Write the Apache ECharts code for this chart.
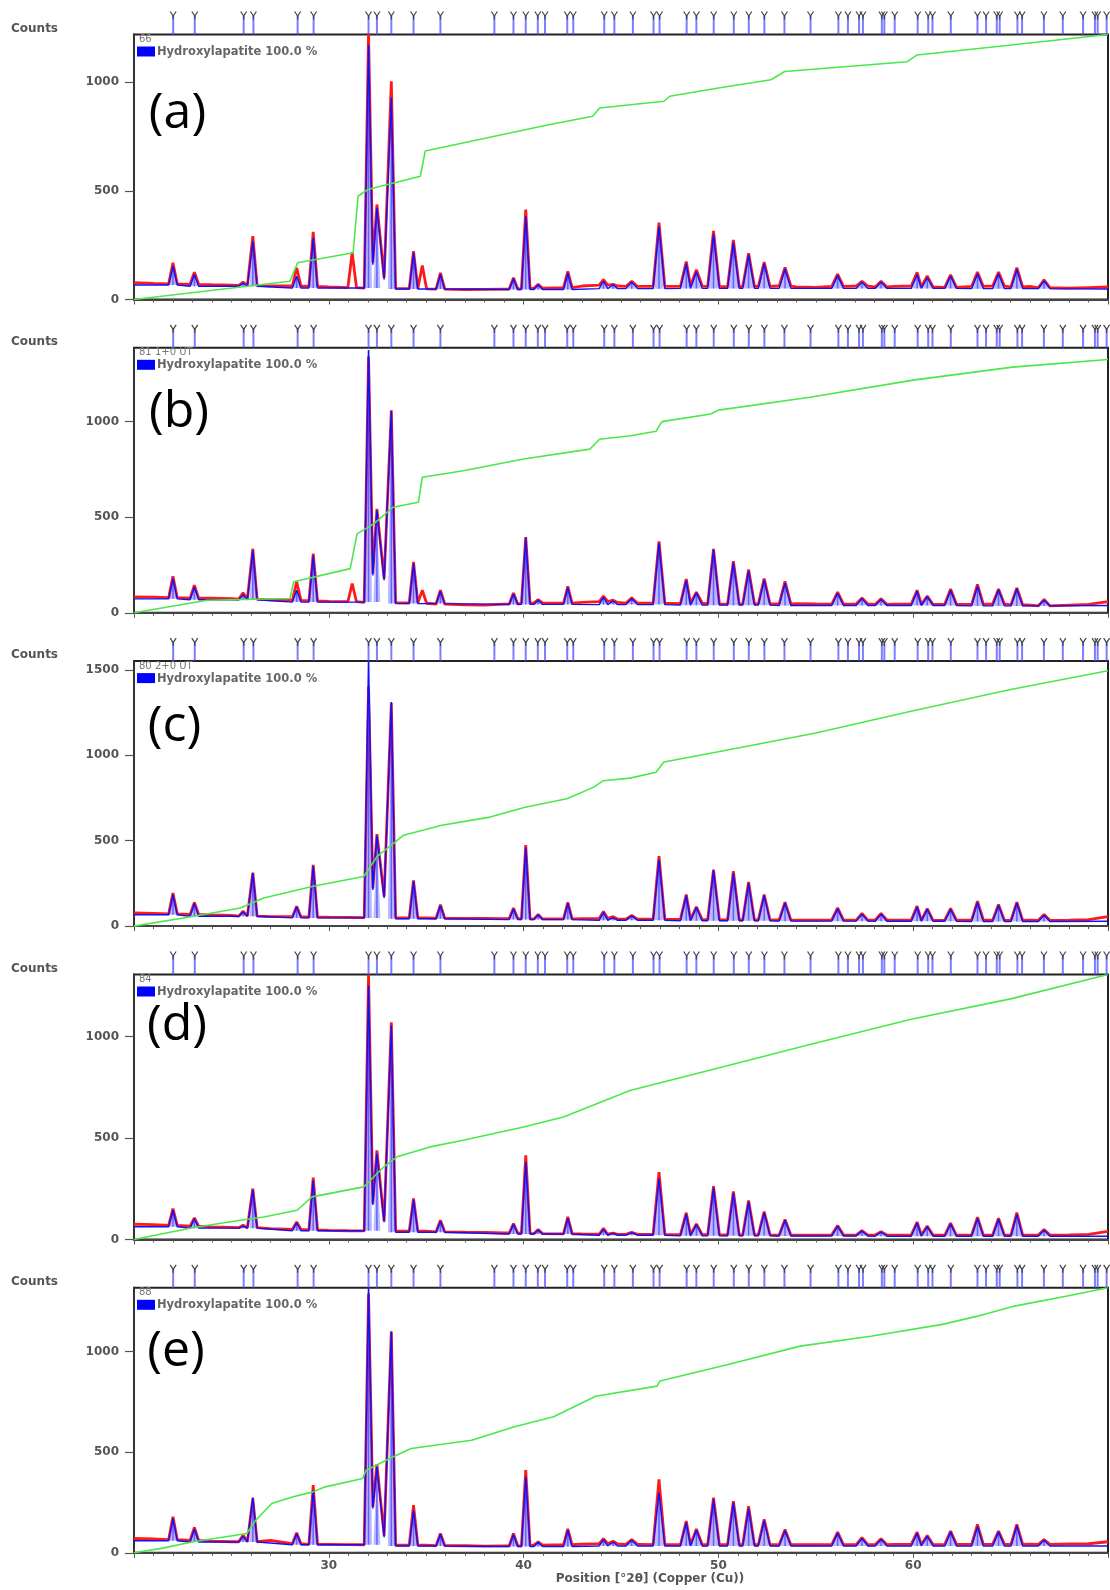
<!DOCTYPE html>
<html><head><meta charset="utf-8">
<script src="https://cdn.jsdelivr.net/npm/echarts@6/dist/echarts.min.js"></script>
<style>html,body{margin:0;padding:0;background:#fff}#c{width:1110px;height:1590px}</style>
</head><body><div id="c"></div>
<script>
// ---------- DATA ----------
const panelLabels = ['(a)', '(b)', '(c)', '(d)', '(e)'];
const sampleIds = ['66', '81 1+0 UT', '80 2+0 UT', '84', '88'];
const phaseName = 'Hydroxylapatite 100.0 %';
const xAxisTitle = 'Position [°2θ] (Copper (Cu))';
const yAxisMax = [1219, 1386, 1551, 1305, 1318];
const xTickLabels = [30, 40, 50, 60];

// reference pattern positions (top sticks), °2θ
const refPos = [22.01, 23.12, 25.63, 26.13, 28.40, 29.22, 32.04, 32.47, 33.21, 34.35, 35.73, 38.50, 39.48, 40.11, 40.73, 41.10,
  42.24, 42.55, 44.14, 44.66, 45.61, 46.67, 46.98, 48.37, 48.87, 49.76, 50.79, 51.56, 52.36, 53.39, 54.73, 56.16, 56.65,
  57.22, 57.42, 58.39, 58.52, 59.05, 60.23, 60.77, 60.99, 61.93, 63.30, 63.74, 64.29, 64.44, 65.35, 65.59, 66.71, 67.68,
  68.72, 69.33, 69.47, 69.93];

// peaks seen in the profiles, °2θ
const peakPos = [22.0, 23.1, 25.6, 26.1, 28.35, 29.2, 31.2, 32.04, 32.47, 33.21, 34.35, 34.8, 35.73, 39.48, 40.11, 40.75,
  42.27, 44.1, 44.6, 45.55, 46.95, 48.35, 48.87, 49.75, 50.77, 51.55, 52.35, 53.42, 56.12, 57.37, 58.35, 60.2, 60.72,
  61.92, 63.3, 64.38, 65.32, 66.72];

// observed (red) and calculated (blue) peak tops, counts
const obsA = [169,126,80,291,146,311,215,1225,437,1004,222,156,123,100,414,70,129,91,70,84,354,175,137,316,274,213,172,147,117,84,84,125,109,114,126,126,147,91];
const calcA = [153,115,75,268,107,284,null,1170,422,928,215,null,115,95,383,68,122,85,68,80,335,165,128,300,262,205,165,140,110,80,80,115,100,108,118,118,138,85];
const obsB = [191,144,104,335,162,309,153,1340,544,1059,266,118,118,104,396,69,139,88,66,78,374,177,108,334,270,226,179,165,108,78,73,118,87,125,148,125,130,70];
const calcB = [179,135,95,326,118,300,null,1375,535,1056,257,null,112,98,392,66,132,82,62,74,365,170,104,330,262,218,172,155,102,74,70,112,84,118,138,120,126,66];
const obsC = [193,139,87,313,116,358,null,1402,538,1306,267,null,126,106,474,68,139,85,55,62,409,185,113,331,321,259,185,140,107,74,74,117,103,103,146,126,140,68];
const calcC = [184,132,82,310,112,352,null,1547,530,1311,262,null,120,100,460,66,132,80,50,60,389,178,108,325,310,250,180,135,102,70,70,112,98,98,138,120,135,64];
const obsD = [152,107,70,251,87,305,null,1305,439,1070,202,null,95,79,415,49,111,55,32,36,332,132,77,263,237,192,138,99,69,44,39,86,66,81,110,105,132,49];
const calcD = [144,102,66,245,82,292,null,1251,423,1054,195,null,90,75,382,47,105,50,30,34,299,125,74,255,228,185,132,95,66,42,37,82,62,77,104,100,124,46];
const obsE = [179,126,88,270,100,337,null,1290,441,1100,237,null,96,96,411,55,119,70,58,66,365,158,119,274,257,232,166,116,103,75,70,103,86,108,141,108,141,66];
const calcE = [171,118,82,275,95,312,null,1315,428,1100,212,null,92,90,378,52,112,66,54,62,299,150,112,265,250,220,160,110,98,72,66,98,82,104,130,104,135,62];

// valleys inside the 32–33° cluster [°2θ, counts]
const valObsA = [[32.26,170],[32.84,100]], valCalcA = [[32.26,160],[32.84,92]];
const valObsB = [[32.26,205],[32.84,179]], valCalcB = [[32.26,195],[32.84,170]];
const valObsC = [[32.26,222],[32.84,174]], valCalcC = [[32.26,212],[32.84,165]];
const valObsD = [[32.26,177],[32.84,90]],  valCalcD = [[32.26,170],[32.84,85]];
const valObsE = [[32.26,229],[32.84,85]],  valCalcE = [[32.26,220],[32.84,78]];

// observed background, one value per degree
const bgPos = [20,21,22,23,24,25,26,27,28,29,30,31,32,33,34,35,36,37,38,39,40,41,42,43,44,45,46,47,48,49,50,51,52,53,54,55,56,57,58,59,60,61,62,63,64,65,66,67,68,69,70];
const bgA = [77,74,72,70,68,66,65,63,62,60,58,55,52,51,50,49,48,46,47,48,50,52,55,62,66,62,60,61,60,62,60,58,60,62,58,56,60,62,58,60,62,58,56,60,62,58,60,54,52,55,58];
const bgB = [83,82,79,77,76,74,72,68,65,62,60,58,55,53,52,50,46,42,40,45,50,52,50,55,58,54,50,50,48,50,47,45,47,46,48,46,45,46,44,45,46,44,45,44,46,42,40,36,40,44,58];
const bgC = [77,75,72,68,65,62,58,56,55,53,52,51,50,49,48,48,46,45,45,44,43,42,42,44,45,42,40,40,39,38,38,37,36,36,35,35,36,35,36,35,35,34,35,36,35,34,35,34,35,38,55];
const bgD = [75,73,70,66,62,60,58,54,50,47,45,43,42,42,41,41,38,36,35,32,30,29,28,27,26,25,25,25,24,24,24,23,23,22,22,22,23,22,22,21,22,22,21,22,22,22,21,22,23,25,40];
const bgE = [71,69,66,62,58,55,55,62,45,42,42,41,40,39,38,38,36,35,33,34,35,38,40,43,45,44,42,41,40,40,40,41,40,40,41,40,41,40,41,42,42,41,42,42,43,42,43,42,44,45,55];

// calculated background
const calcBgPos = [20,25,30,35,40,45,50,55,60,65,70];
const cbgA = [67,61,53,48,46,50,51,51,51,50,48];
const cbgB = [73,68,56,48,44,43,40,38,38,36,38];
const cbgC = [66,58,48,43,38,34,31,29,28,27,28];
const cbgD = [63,56,43,36,27,21,18,17,16,16,16];
const cbgE = [60,54,40,34,31,34,34,34,34,34,34];

// green curve [°2θ, counts]
const greenA = [[20,0],[28.0,84],[28.4,169],[31.25,215],[31.5,475],[32.0,506],[34.7,567],[34.95,683],[41.35,805],[43.55,843],[43.9,881],[47.2,912],[47.5,935],[50.0,973],[52.7,1011],[53.4,1049],[59.7,1094],[60.2,1125],[64.2,1163],[70,1219]];
const greenB = [[20,0],[23.75,66],[28.0,75],[28.2,162],[31.1,231],[31.45,413],[32.3,465],[33.3,552],[34.6,578],[34.8,709],[36.9,743],[40.0,804],[43.4,856],[43.9,908],[45.5,926],[46.8,950],[47.1,1000],[49.6,1040],[50.0,1060],[54.7,1127],[60.0,1217],[65.1,1285],[70,1325]];
const greenC = [[20,0],[23.07,58],[25.46,106],[26.66,164],[29.14,232],[31.79,290],[32.47,406],[33.32,484],[33.84,532],[35.8,590],[38.28,638],[40.08,696],[42.22,745],[43.58,812],[44.09,851],[45.46,866],[46.8,900],[47.2,960],[50.0,1020],[55,1130],[60,1260],[65,1385],[70,1495]];
const greenD = [[20,0],[23.07,59],[25.46,95],[26.66,111],[28.37,144],[29.14,210],[31.79,259],[32.82,357],[33.5,407],[35.2,456],[36.9,489],[40.0,554],[42.05,603],[45.46,734],[49.6,835],[54.7,960],[59.9,1085],[65.0,1185],[70,1305]];
const greenE = [[20,0],[21.4,22],[23.05,55],[25.79,96],[26.25,162],[27.07,245],[28.17,279],[29.18,303],[29.82,328],[31.74,370],[31.92,411],[33.12,469],[34.22,519],[37.33,560],[39.53,627],[41.54,677],[43.7,779],[46.85,829],[47.0,854],[50.5,937],[54.2,1028],[57.9,1078],[61.5,1136],[63.3,1177],[65.2,1227],[67.9,1277],[70,1318]];

// ---------- BUILD ----------
const panels = [
  {obs: obsA, calc: calcA, bg: bgA, cbg: cbgA, ov: valObsA, cv: valCalcA, green: greenA},
  {obs: obsB, calc: calcB, bg: bgB, cbg: cbgB, ov: valObsB, cv: valCalcB, green: greenB},
  {obs: obsC, calc: calcC, bg: bgC, cbg: cbgC, ov: valObsC, cv: valCalcC, green: greenC},
  {obs: obsD, calc: calcD, bg: bgD, cbg: cbgD, ov: valObsD, cv: valCalcD, green: greenD},
  {obs: obsE, calc: calcE, bg: bgE, cbg: cbgE, ov: valObsE, cv: valCalcE, green: greenE}
];

const tops = [34.5, 347.8, 661.1, 974.5, 1287.8];
const plotH = 265, plotLeft = 134, plotW = 974;
const labelCenters = [[177.5,114],[179,413],[174.5,727],[177,1026],[176,1352]];

function nearest(xs, ys, x) {
  let bi = 0;
  for (let i = 1; i < xs.length; i++) if (Math.abs(xs[i] - x) < Math.abs(xs[bi] - x)) bi = i;
  return ys[bi];
}
function halfWidth(p) { return p < 45 ? 0.22 : 0.3; }
function curve(topsArr, bgX, bgY, valleys) {
  const pts = [];
  const near = (x, r) => peakPos.some((p, i) => topsArr[i] != null && Math.abs(x - p) < r) ||
    valleys.some(v => Math.abs(x - v[0]) < r);
  bgX.forEach((x, i) => { if (!near(x, 0.42)) pts.push([x, bgY[i]]); });
  peakPos.forEach((p, i) => {
    if (topsArr[i] == null) return;
    const hw = halfWidth(p), base = nearest(bgX, bgY, p);
    [p - hw, p + hw].forEach(f => {
      if (!valleys.some(v => Math.abs(f - v[0]) < 0.3)) pts.push([f, base]);
    });
    pts.push([p, topsArr[i]]);
  });
  valleys.forEach(v => pts.push(v.slice()));
  return pts.sort((a, b) => a[0] - b[0]);
}

const grids = [], xAxes = [], yAxes = [], series = [], graphics = [];
const axisFont = {color: '#555', fontSize: 12, fontWeight: 'bold', fontFamily: 'DejaVu Sans'};

panels.forEach((pn, k) => {
  grids.push({left: plotLeft, top: tops[k], width: plotW, height: plotH, show: true,
    borderColor: '#222', borderWidth: 2, backgroundColor: 'transparent'});
  xAxes.push({gridIndex: k, type: 'value', min: 20, max: 70, interval: 10,
    axisLine: {show: true, lineStyle: {color: '#444', width: 2}},
    axisTick: {show: true, length: 5, lineStyle: {color: '#555'}},
    minorTick: {show: true, splitNumber: 10, length: 3, lineStyle: {color: '#555'}},
    splitLine: {show: false}, minorSplitLine: {show: false},
    axisLabel: Object.assign({show: k === 4, margin: 7, showMinLabel: false, showMaxLabel: false,
      formatter: v => xTickLabels.includes(v) ? String(v) : ''}, axisFont)
  });
  yAxes.push({gridIndex: k, type: 'value', min: 0, max: yAxisMax[k], interval: 500,
    axisLine: {show: true, lineStyle: {color: '#333', width: 2}},
    axisTick: {show: true, length: 9, lineStyle: {color: '#555', width: 1.2}},
    splitLine: {show: false},
    axisLabel: Object.assign({showMaxLabel: false, margin: 15, formatter: v => String(v)}, axisFont)
  });

  const obsCurve = curve(pn.obs, bgPos, pn.bg, pn.ov);
  const calcCurve = curve(pn.calc, calcBgPos, pn.cbg, pn.cv);
  const fills = [];
  peakPos.forEach((p, i) => {
    if (pn.calc[i] == null) return;
    fills.push([p, nearest(calcBgPos, pn.cbg, p), pn.calc[i], halfWidth(p)]);
  });

  series.push({type: 'line', xAxisIndex: k, yAxisIndex: k, data: obsCurve, showSymbol: false, symbol: 'none',
    clip: true, lineStyle: {color: '#ff1a1a', width: 2.8}, z: 2, silent: true});
  series.push({type: 'custom', xAxisIndex: k, yAxisIndex: k, data: fills, clip: true, z: 3, silent: true,
    renderItem(params, api) {
      const p = api.value(0), base = api.value(1), top = api.value(2), hw = api.value(3);
      const a = api.coord([p - hw * 0.8, base]), b = api.coord([p, top]), c = api.coord([p + hw * 0.8, base]);
      return {type: 'group', children: [
        {type: 'polygon', shape: {points: [a, b, c]}, style: {fill: 'rgba(90,90,255,0.42)'}},
        {type: 'line', shape: {x1: b[0], y1: a[1], x2: b[0], y2: b[1]}, style: {stroke: 'rgba(60,60,255,0.7)', lineWidth: 1.5}}
      ]};
    }});
  series.push({type: 'line', xAxisIndex: k, yAxisIndex: k, data: calcCurve, showSymbol: false, symbol: 'none',
    clip: true, lineStyle: {color: '#1010ff', width: 1.4}, z: 4, silent: true});
  series.push({type: 'line', xAxisIndex: k, yAxisIndex: k, data: pn.green, showSymbol: false, symbol: 'none',
    clip: true, lineStyle: {color: '#4ae84a', width: 1.6}, z: 5, silent: true});
  series.push({type: 'custom', xAxisIndex: k, yAxisIndex: k, data: refPos.map(p => [p, 0]), clip: false, z: 6, silent: true,
    renderItem(params, api) {
      const x = api.coord([api.value(0), 0])[0];
      const t = params.coordSys.y;
      return {type: 'group', children: [
        {type: 'line', shape: {x1: x, y1: t - 19, x2: x, y2: t}, style: {stroke: 'rgba(70,70,255,0.7)', lineWidth: 2}},
        {type: 'polyline', shape: {points: [[x - 3, t - 23], [x, t - 18.5], [x + 3, t - 23]]}, style: {stroke: '#444', fill: null, lineWidth: 1.2}},
        {type: 'line', shape: {x1: x, y1: t - 18.5, x2: x, y2: t - 15}, style: {stroke: '#444', lineWidth: 1.2}}
      ]};
    }});

  graphics.push({type: 'text', x: 11, y: tops[k] - 6, style: {text: 'Counts', font: 'bold 12px "DejaVu Sans"', fill: '#555', verticalAlign: 'middle'}});
  graphics.push({type: 'text', x: 139, y: tops[k] + 5, style: {text: sampleIds[k], font: '10px "DejaVu Sans"', fill: '#777', verticalAlign: 'middle'}});
  graphics.push({type: 'rect', shape: {x: 137, y: tops[k] + 12, width: 18, height: 10}, style: {fill: '#0000ff'}});
  graphics.push({type: 'text', x: 157, y: tops[k] + 17.5, style: {text: phaseName, font: 'bold 11.5px "DejaVu Sans"', fill: '#666', verticalAlign: 'middle'}});
  graphics.push({type: 'text', x: labelCenters[k][0], y: labelCenters[k][1], style: {text: panelLabels[k], font: '50px "Open Sans"', fill: '#000', align: 'center', verticalAlign: 'middle'}});
});
graphics.push({type: 'text', x: 650, y: 1579, style: {text: xAxisTitle, font: 'bold 12px "DejaVu Sans"', fill: '#555', align: 'center', verticalAlign: 'middle'}});

const chart = echarts.init(document.getElementById('c'), null, {renderer: 'canvas'});
chart.setOption({
  animation: false,
  backgroundColor: '#fff',
  grid: grids, xAxis: xAxes, yAxis: yAxes, series: series, graphic: graphics
});
</script></body></html>
